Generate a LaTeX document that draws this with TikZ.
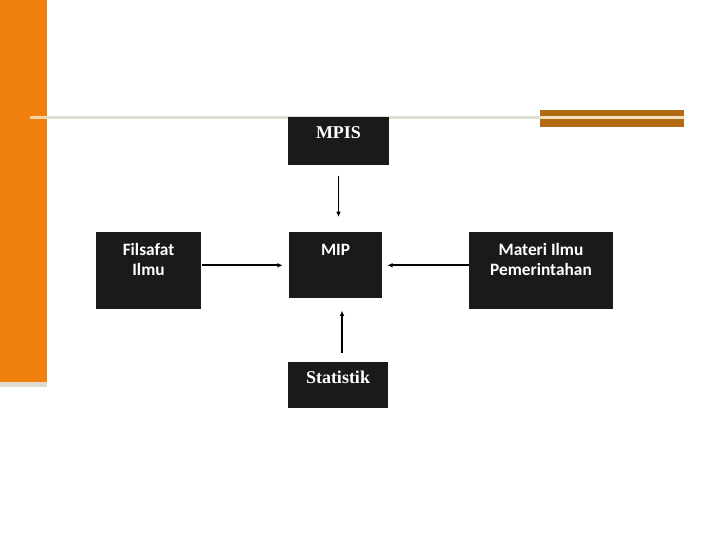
\documentclass[tikz,border=0pt]{standalone}
\usepackage{fontspec}
\setmainfont{Liberation Serif}
\newfontfamily\boxsans{Carlito}
\usepackage{xcolor}
\usetikzlibrary{arrows.meta}

\definecolor{barorange}{RGB}{241,129,14}
\definecolor{barbeige}{RGB}{224,220,210}
\definecolor{rulegrey}{RGB}{224,221,209}
\definecolor{rulepeach}{RGB}{247,212,165}
\definecolor{barbrown}{RGB}{176,106,18}
\definecolor{brownstripe}{RGB}{240,224,192}
\definecolor{boxfill}{RGB}{26,26,26}

\tikzset{
    blackbox/.style={fill=boxfill, text=white, anchor=north, inner sep=0pt, align=center},
    sanslabel/.style={font=\boxsans\bfseries\fontsize{13}{15}\selectfont},
    seriflabel/.style={font=\bfseries\fontsize{13.5}{16}\selectfont},
    link/.style={-{Latex[length=4pt,width=3.5pt]}, line width=1.3pt}
}

\begin{document}
\begin{tikzpicture}[x=0.75pt, y=-0.75pt]
    \useasboundingbox (0,0) rectangle (720,540);

    % side bar and top rule
    \fill[barorange] (0,0) rectangle (47,382);
    \fill[barbeige] (0,382) rectangle (47,387);
    \fill[rulepeach] (30,116) rectangle (47,119);
    \fill[rulegrey] (47,116) rectangle (540,119);
    \fill[barbrown] (540,110) rectangle (684,127);
    \fill[brownstripe] (540,116) rectangle (684,119);

    \node[blackbox, seriflabel, minimum width=75.75pt, text height=15.75pt, text depth=20.25pt] (mpis) at (338.5,117) {MPIS};
    \node[blackbox, sanslabel, minimum width=78.75pt, text height=32.25pt, text depth=25.5pt] (fil) at (148.5,232) {Filsafat\\Ilmu};
    \node[blackbox, sanslabel, minimum width=69.75pt, text height=17.25pt, text depth=32.25pt] (mip) at (335.5,232) {MIP};
    \node[blackbox, sanslabel, minimum width=108pt, text height=32.25pt, text depth=25.5pt] (mat) at (541,232) {Materi Ilmu\\Pemerintahan};
    \node[blackbox, seriflabel, minimum width=75pt, text height=15.75pt, text depth=18.75pt] (stat) at (338,362) {Statistik};

    \draw[link, shorten <=7.5pt, shorten >=11.25pt] (mpis.south) -- (mpis.south |- mip.north);
    \draw[link, shorten <=0.75pt, shorten >=4.5pt] (fil.east |- mip.west) -- (mip.west);
    \draw[link, shorten >=3.75pt] (mat.west |- mip.east) -- (mip.east);
    \draw[link, shorten <=6.75pt, shorten >=9pt] ([xshift=3pt]stat.north) -- ([xshift=3pt]stat.north |- mip.south);
\end{tikzpicture}
\end{document}
